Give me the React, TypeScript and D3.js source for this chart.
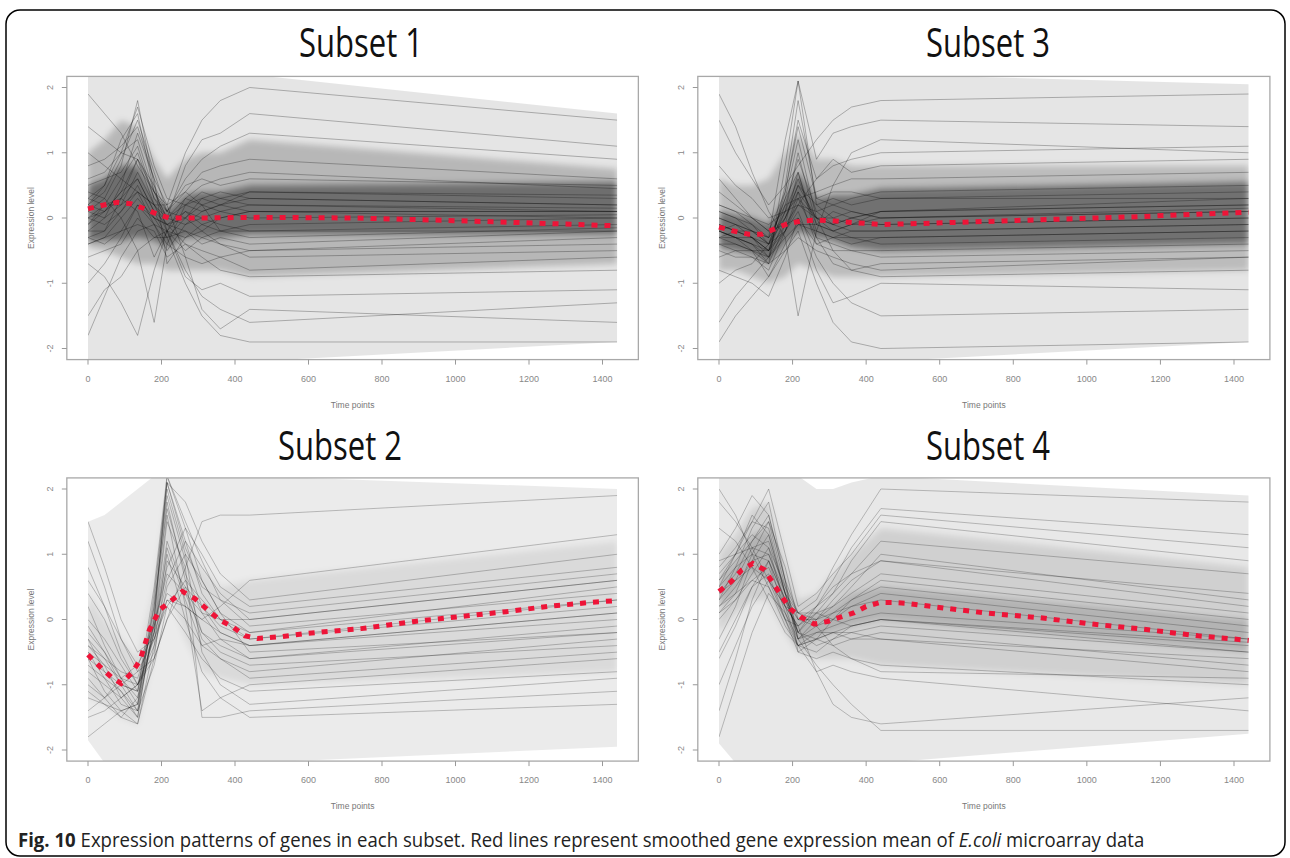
import React, { useLayoutEffect, useRef, useState } from 'react';
import * as d3 from 'd3';

// ---------- DATA ----------
const TIMES = [0, 45, 90, 135, 180, 215, 265, 310, 360, 440, 1440];
const X_TICKS = [0, 200, 400, 600, 800, 1000, 1200, 1400];
const Y_TICKS = [-2, -1, 0, 1, 2];
const CAPTION_BOLD = 'Fig. 10';
const CAPTION_TEXT = ' Expression patterns of genes in each subset. Red lines represent smoothed gene expression mean of ';
const CAPTION_ITALIC = 'E.coli';
const CAPTION_END = ' microarray data';

// Subset 1
const subset1Genes = [
  [0.2, 0.5, 1.2, 1.6, 0.4, 0.0, 0.3, 0.2, 0.3, 0.4, 0.3],
  [-0.3, -0.2, 0.3, 0.9, 0.2, -0.1, -0.2, -0.3, -0.2, -0.2, -0.1],
  [0.1, 0.3, 0.8, 1.8, 0.5, -0.2, 0.1, 0.0, 0.1, 0.2, 0.15],
  [1.4, 1.2, 1.0, 0.9, 0.5, 0.1, 0.6, 0.9, 1.1, 1.3, 0.9],
  [-0.4, -0.3, -0.2, -0.1, -0.2, -0.6, -0.4, -0.5, -0.6, -0.5, -0.3],
  [0.0, 0.1, 0.4, 0.6, 0.1, -0.3, 0.0, 0.2, 0.1, 0.0, 0.05],
  [-1.8, -1.2, -0.6, -0.2, -0.1, -0.2, -0.8, -1.2, -1.4, -1.6, -1.3],
  [0.5, 0.6, 0.7, 1.1, 0.3, 0.1, 0.5, 0.6, 0.5, 0.6, 0.5],
  [-0.2, 0.0, 0.5, 1.3, 0.6, -0.7, -0.3, -0.1, -0.2, -0.1, 0.0],
  [0.3, 0.2, 0.2, 0.4, 0.2, 0.0, 0.2, 0.3, 0.4, 0.3, 0.2],
  [1.9, 1.6, 1.3, 0.8, 0.4, 0.2, 1.0, 1.5, 1.8, 2.0, 1.5],
  [-0.3, -0.4, -0.2, 0.2, -0.1, -0.4, -0.6, -0.7, -0.6, -0.8, -0.6],
  [0.0, -0.1, 0.1, 0.5, 0.0, -0.1, 0.1, -0.1, 0.0, 0.1, 0.0],
  [-1.0, -0.7, -0.3, 0.2, 0.0, -0.1, -0.4, -0.6, -0.8, -0.9, -0.8],
  [0.8, 0.9, 1.1, 1.4, 0.6, 0.2, 0.4, 0.7, 0.8, 0.9, 0.6],
  [-0.1, 0.2, 0.6, 1.0, 0.3, 0.0, -0.1, 0.1, 0.2, 0.3, 0.2],
  [0.4, 0.3, 0.0, -0.5, -1.6, -0.4, 0.2, 0.4, 0.3, 0.2, 0.1],
  [-0.4, -0.3, 0.0, 0.3, 0.0, -0.3, -0.2, -0.4, -0.3, -0.4, -0.2],
  [0.2, 0.4, 0.9, 1.5, 0.7, 0.1, 0.0, -0.2, 0.0, 0.1, 0.1],
  [-1.5, -1.1, -0.9, -0.5, -0.3, -0.3, -1.0, -1.5, -1.8, -1.9, -1.9],
  [0.1, 0.0, 0.2, 0.7, 0.2, -0.2, 0.3, 0.5, 0.6, 0.7, 0.45],
  [-0.2, -0.2, 0.1, 0.4, -0.1, -0.5, -0.1, 0.0, -0.1, -0.2, -0.2],
  [0.6, 0.7, 1.0, 1.2, 0.4, 0.0, 0.8, 1.2, 1.3, 1.6, 1.1],
  [0.0, 0.2, 0.3, 0.1, -0.6, -0.2, -0.9, -1.1, -1.0, -1.2, -1.1],
  [-0.6, -0.5, -0.4, 0.0, -0.3, -0.2, -0.5, -0.3, -0.4, -0.6, -0.5],
  [0.3, 0.5, 1.0, 1.7, 0.8, 0.3, 0.2, 0.1, 0.2, 0.4, 0.35],
  [-0.7, -0.9, -1.3, -1.8, -0.8, -0.2, -0.3, -0.2, -0.4, -0.5, -0.4],
  [1.0, 0.8, 0.6, 0.4, 0.2, 0.2, -0.6, -1.4, -1.7, -1.4, -1.6],
  [0.2, 0.1, 0.3, 0.6, 0.1, -0.1, 0.0, 0.3, 0.2, 0.1, 0.1],
  [-0.1, 0.1, 0.4, 0.9, 0.4, 0.1, 0.4, 0.2, -0.2, -0.3, -0.15],
];
const subset1OuterHi = [2.2, 2.2, 2.2, 2.2, 2.2, 2.2, 2.2, 2.2, 2.2, 2.2, 1.6];
const subset1OuterLo = [-2.2, -2.2, -2.2, -2.2, -2.2, -2.2, -2.2, -2.2, -2.2, -2.2, -1.9];
const subset1MidHi = [1.0, 1.2, 1.5, 1.4, 0.9, 0.6, 0.9, 1.0, 1.0, 1.2, 0.75];
const subset1MidLo = [-0.45, -0.5, -0.6, -0.7, -0.7, -0.8, -0.8, -0.8, -0.8, -0.9, -0.7];
const subset1CoreHi = [0.5, 0.6, 0.8, 0.8, 0.35, 0.1, 0.35, 0.4, 0.4, 0.5, 0.55];
const subset1CoreLo = [-0.35, -0.35, -0.35, -0.3, -0.35, -0.45, -0.3, -0.3, -0.3, -0.25, -0.25];
const subset1MeanTimes = [0, 43, 80, 116, 150, 184, 220, 291, 472, 720, 935, 1115, 1228, 1440];
const subset1MeanValues = [0.14, 0.2, 0.24, 0.22, 0.15, 0.07, 0.0, 0.0, 0.01, 0.0, -0.03, -0.06, -0.08, -0.12];

// Subset 3
const subset3Genes = [
  [-0.2, -0.3, -0.4, -0.5, 0.2, 0.9, 0.1, -0.1, 0.0, 0.1, 0.2],
  [-0.1, -0.2, -0.3, -0.6, 0.5, 1.8, 0.3, 0.2, 0.1, 0.0, 0.15],
  [0.1, 0.0, -0.1, -0.3, 0.0, 0.4, 0.0, -0.1, -0.2, -0.2, -0.1],
  [-0.4, -0.5, -0.6, -0.8, -0.2, 0.3, -0.3, -0.4, -0.5, -0.5, -0.4],
  [-0.3, -0.3, -0.4, -0.7, 0.8, 2.1, 0.2, 0.0, -0.1, 0.1, 0.3],
  [1.5, 1.0, 0.6, 0.2, 0.5, 0.8, 1.2, 1.5, 1.7, 1.8, 1.9],
  [-1.6, -1.2, -0.9, -0.6, -0.2, 0.1, -0.6, -1.0, -1.3, -1.5, -1.4],
  [-0.2, -0.1, -0.2, -0.4, 0.3, 1.2, 0.0, -0.2, -0.1, 0.0, 0.1],
  [0.0, -0.1, -0.3, -0.5, -0.1, 0.2, 0.1, 0.2, 0.3, 0.4, 0.5],
  [-0.3, -0.4, -0.5, -0.6, -0.3, -0.1, -0.1, -0.2, -0.3, -0.3, -0.2],
  [0.6, 0.3, 0.0, -0.2, 0.4, 1.5, 0.6, 0.8, 0.9, 1.0, 1.1],
  [-0.2, -0.3, -0.5, -0.9, -0.4, -0.1, -0.2, -0.3, -0.4, -0.3, -0.2],
  [-1.0, -0.8, -0.7, -0.4, 0.3, 0.7, -0.3, -0.7, -0.8, -0.9, -0.8],
  [0.2, 0.1, -0.1, -0.4, 0.0, 0.5, 0.2, 0.3, 0.2, 0.3, 0.4],
  [-0.1, -0.2, -0.3, -0.5, 0.1, 0.6, -0.1, -0.2, -0.1, -0.1, 0.0],
  [1.9, 1.4, 0.7, 0.1, -0.3, -1.5, -0.2, 0.5, 1.0, 1.2, 1.0],
  [-0.5, -0.6, -0.6, -0.7, -0.5, -0.3, -0.5, -0.6, -0.7, -0.8, -0.6],
  [-0.3, -0.2, -0.2, -0.4, 0.1, 1.0, -0.1, 0.1, 0.0, -0.1, 0.0],
  [-1.9, -1.5, -1.2, -0.9, -0.5, -0.2, -1.0, -1.6, -1.9, -2.0, -1.9],
  [0.1, 0.0, -0.2, -0.3, 0.2, 0.3, 0.4, 0.5, 0.6, 0.6, 0.7],
  [-0.2, -0.3, -0.4, -0.6, 0.0, 0.5, 0.0, -0.1, 0.0, 0.1, 0.2],
  [0.4, 0.2, 0.0, -0.2, -0.1, 0.0, -0.8, -1.3, -1.2, -1.0, -1.1],
  [-0.6, -0.5, -0.5, -0.5, -0.2, 0.4, -0.4, -0.5, -0.5, -0.6, -0.5],
  [0.0, -0.1, -0.2, -0.3, 1.2, 2.1, 0.9, 1.3, 1.4, 1.5, 1.4],
  [-0.1, -0.2, -0.3, -0.4, -0.2, 0.2, 0.0, 0.0, 0.1, 0.0, 0.1],
  [-0.4, -0.4, -0.5, -0.7, -0.1, 0.7, -0.2, -0.3, -0.2, -0.2, -0.1],
  [0.8, 0.5, 0.3, 0.0, 0.1, 0.3, 0.0, -0.5, -0.8, -0.7, -0.6],
  [-0.2, -0.3, -0.3, -0.5, 0.4, 1.4, 0.3, 0.4, 0.4, 0.3, 0.3],
  [-0.8, -0.9, -1.0, -1.2, -0.6, 0.0, -0.4, -0.3, -0.3, -0.4, -0.3],
  [0.2, 0.1, 0.0, -0.1, 0.1, 0.2, 0.6, 0.9, 0.7, 0.8, 0.9],
];
const subset3OuterHi = [2.2, 2.2, 2.2, 2.2, 2.2, 2.2, 2.2, 2.2, 2.2, 2.2, 2.05];
const subset3OuterLo = [-2.2, -2.2, -2.2, -2.2, -2.2, -2.2, -2.2, -2.2, -2.2, -2.2, -1.9];
const subset3MidHi = [0.6, 0.5, 0.5, 0.6, 1.0, 1.3, 0.9, 0.9, 0.8, 0.8, 0.8];
const subset3MidLo = [-0.8, -0.8, -0.9, -1.0, -0.9, -0.7, -0.8, -0.9, -0.9, -0.9, -0.8];
const subset3CoreHi = [0.1, 0.05, 0.0, -0.1, 0.3, 0.7, 0.3, 0.35, 0.35, 0.45, 0.55];
const subset3CoreLo = [-0.45, -0.5, -0.55, -0.7, -0.4, -0.2, -0.3, -0.35, -0.45, -0.5, -0.4];
const subset3MeanTimes = [0, 40, 81, 116, 150, 185, 220, 261, 300, 366, 440, 513, 688, 911, 1137, 1440];
const subset3MeanValues = [-0.14, -0.2, -0.25, -0.25, -0.17, -0.09, -0.05, -0.03, -0.04, -0.07, -0.1, -0.09, -0.06, -0.02, 0.02, 0.09];

// Subset 2
const subset2Genes = [
  [-0.5, -0.9, -1.3, -1.4, 0.3, 2.1, 1.2, 0.4, 0.0, -0.3, 0.2],
  [-0.3, -0.8, -1.1, -1.5, 0.0, 2.2, 1.5, 0.9, 0.3, -0.1, 0.4],
  [1.5, 0.8, 0.0, -0.5, -0.3, 0.2, 0.6, 0.3, 0.0, -0.2, 0.5],
  [-1.2, -1.3, -1.5, -1.2, -0.2, 1.5, 0.8, -1.5, -1.5, -1.4, -1.1],
  [-0.8, -1.0, -1.2, -1.0, -0.5, 0.5, 1.0, 0.6, 0.1, -0.5, -0.2],
  [0.2, -0.4, -0.9, -1.3, 0.2, 1.9, 0.9, 0.2, -0.2, -0.4, 0.0],
  [-1.8, -1.6, -1.4, -1.6, -0.6, 0.9, 0.5, -0.3, -0.6, -0.9, -0.5],
  [-0.4, -0.6, -0.8, -0.9, -0.1, 0.8, 1.4, 1.0, 0.5, 0.2, 0.8],
  [0.8, 0.2, -0.5, -1.0, -0.4, 0.3, 0.0, -0.4, -0.6, -0.8, -0.3],
  [-0.6, -1.1, -1.4, -1.3, 0.4, 2.1, 1.8, 1.2, 0.7, 0.3, 1.0],
  [-1.0, -1.2, -1.0, -0.8, -0.3, 0.3, 0.2, 0.0, -0.2, -0.4, 0.1],
  [0.0, -0.3, -0.7, -1.1, -0.2, 1.2, 0.4, -0.2, -0.5, -0.7, -0.4],
  [-0.2, -0.5, -0.9, -1.2, 0.1, 2.0, 1.0, -0.5, -1.0, -1.3, -0.9],
  [1.2, 0.5, -0.3, -0.8, -0.6, 0.0, 0.8, 1.5, 1.6, 1.6, 1.9],
  [-0.9, -1.2, -1.5, -1.6, -0.4, 1.1, 0.3, -0.4, -0.3, -0.4, 0.1],
  [-0.5, -0.7, -0.9, -1.0, -0.6, 0.0, 0.5, 0.2, -0.1, -0.3, 0.3],
  [-1.5, -1.4, -1.2, -1.0, 0.0, 1.8, 0.6, -0.2, -0.4, -0.6, -0.2],
  [0.4, 0.0, -0.6, -1.0, -0.3, 0.6, 1.2, 0.8, 0.4, 0.0, 0.6],
  [-0.7, -0.9, -1.1, -1.4, -0.1, 1.6, 0.2, -1.4, -1.2, -1.0, -0.6],
  [-0.3, -0.6, -1.0, -1.1, 0.5, 2.2, 1.4, 0.6, 0.1, -0.2, 0.3],
  [-1.1, -1.3, -1.4, -1.3, -0.2, 1.0, 0.0, -0.8, -1.2, -1.5, -1.3],
  [0.6, 0.2, -0.3, -0.7, -0.2, 0.4, 0.2, 0.0, 0.2, 0.6, 1.3],
  [-0.6, -0.8, -1.0, -1.1, 0.2, 1.7, 0.7, 0.1, -0.3, -0.6, -0.1],
  [-0.1, -0.5, -1.0, -1.4, -0.7, 0.2, -0.2, -0.6, -0.9, -1.1, -0.8],
  [-0.4, -0.7, -1.2, -1.5, 0.0, 2.1, 1.1, 0.5, 0.3, 0.1, 0.7],
  [-1.4, -1.2, -0.9, -0.7, -0.1, 0.7, 0.4, 0.1, 0.0, 0.0, 0.6],
];
const subset2OuterHi = [1.5, 1.6, 1.8, 2.0, 2.2, 2.2, 2.2, 2.2, 2.2, 2.2, 2.0];
const subset2OuterLo = [-1.85, -2.2, -2.2, -2.2, -2.2, -2.2, -2.2, -2.2, -2.2, -2.2, -1.95];
const subset2MidHi = [0.4, 0.0, -0.3, -0.6, 0.5, 1.9, 1.2, 0.8, 0.5, 0.6, 1.2];
const subset2MidLo = [-1.2, -1.3, -1.5, -1.6, -0.5, 0.5, -0.3, -0.8, -0.9, -1.0, -0.8];
const subset2MeanTimes = [0, 32, 63, 90, 119, 142, 167, 195, 223, 257, 291, 325, 359, 393, 427, 461, 530, 600, 743, 889, 1003, 1138, 1251, 1364, 1440];
const subset2MeanValues = [-0.54, -0.72, -0.88, -0.98, -0.82, -0.62, -0.16, 0.15, 0.27, 0.43, 0.32, 0.15, -0.01, -0.11, -0.25, -0.29, -0.26, -0.21, -0.14, -0.03, 0.04, 0.12, 0.2, 0.26, 0.29];

// Subset 4
const subset4Genes = [
  [0.5, 1.0, 1.6, 1.3, 0.4, -0.3, -0.1, 0.1, 0.2, 0.4, -0.2],
  [0.3, 0.8, 1.4, 1.8, 0.6, -0.5, -0.3, 0.0, 0.3, 0.6, 0.0],
  [1.8, 1.5, 1.1, 0.6, 0.2, 0.1, 0.3, 0.8, 1.3, 2.0, 1.8],
  [0.2, 0.5, 0.9, 1.0, 0.3, -0.2, -0.4, -0.3, -0.1, 0.0, -0.4],
  [-1.8, -1.0, -0.2, 0.4, 0.1, -0.3, -0.7, -1.0, -1.3, -1.7, -1.7],
  [0.6, 0.9, 1.2, 1.5, 0.8, 0.0, 0.2, 0.4, 0.7, 1.2, 0.7],
  [0.4, 0.6, 0.8, 0.6, 0.0, -0.4, -0.2, -0.1, 0.0, 0.1, -0.3],
  [1.0, 1.4, 1.9, 1.6, 0.6, 0.1, 0.0, 0.3, 0.6, 0.9, 0.2],
  [-0.5, 0.0, 0.5, 0.7, 0.0, -0.5, -0.6, -0.5, -0.6, -0.7, -1.0],
  [0.1, 0.4, 1.0, 1.5, 0.5, -0.2, 0.1, 0.4, 0.9, 1.5, 0.9],
  [1.4, 1.2, 0.8, 0.3, -0.2, -0.4, -0.3, -0.2, -0.3, -0.2, -0.7],
  [0.3, 0.6, 1.1, 1.2, 0.4, 0.0, -0.1, 0.0, 0.2, 0.3, -0.3],
  [-1.0, -0.4, 0.2, 0.6, 0.2, -0.1, -0.8, -1.3, -1.5, -1.6, -1.2],
  [0.8, 1.1, 1.5, 2.0, 1.0, 0.2, 0.4, 0.7, 1.0, 1.6, 1.1],
  [0.2, 0.4, 0.6, 0.5, -0.1, -0.4, -0.5, -0.3, -0.2, -0.1, -0.5],
  [0.5, 0.8, 1.0, 0.9, 0.3, 0.0, 0.0, 0.1, 0.3, 0.5, -0.1],
  [-0.3, 0.2, 0.9, 1.3, 0.4, -0.3, -0.2, -0.2, -0.1, 0.0, -0.5],
  [2.0, 1.6, 1.0, 0.5, 0.0, -0.1, 0.2, 0.5, 0.7, 0.9, 0.4],
  [0.0, 0.3, 0.7, 1.1, 0.2, -0.4, -0.8, -0.7, -0.8, -0.9, -1.4],
  [0.7, 1.0, 1.3, 1.1, 0.5, 0.1, 0.1, 0.2, 0.4, 0.7, 0.1],
  [-1.4, -0.6, 0.3, 0.9, 0.3, -0.2, -0.3, -0.4, -0.3, -0.3, -0.8],
  [0.4, 0.7, 1.2, 1.6, 0.6, -0.3, 0.0, 0.2, 0.5, 1.0, 0.3],
  [0.9, 1.0, 1.1, 1.0, 0.4, 0.1, -0.1, -0.4, -0.6, -0.8, -0.9],
  [0.1, 0.3, 0.6, 0.8, 0.2, -0.1, 0.1, 0.0, -0.1, 0.0, -0.35],
  [0.6, 1.0, 1.5, 1.4, 0.4, -0.2, 0.2, 0.6, 1.1, 1.7, 1.3],
  [-0.6, -0.1, 0.5, 0.9, 0.1, -0.4, -0.3, -0.2, -0.2, -0.3, -0.6],
];
const subset4OuterHi = [2.2, 2.2, 2.2, 2.2, 2.2, 2.2, 2.0, 2.0, 2.1, 2.2, 1.9];
const subset4OuterLo = [-1.9, -2.2, -2.2, -2.2, -2.2, -2.2, -2.2, -2.2, -2.2, -2.2, -1.75];
const subset4MidHi = [1.0, 1.3, 1.7, 1.8, 0.9, 0.3, 0.4, 0.7, 1.0, 1.4, 0.8];
const subset4MidLo = [-0.2, 0.1, 0.3, 0.3, -0.2, -0.5, -0.6, -0.6, -0.6, -0.7, -1.0];
const subset4CoreHi = [0.6, 0.9, 1.3, 1.4, 0.6, 0.0, 0.1, 0.2, 0.4, 0.5, 0.0];
const subset4CoreLo = [0.2, 0.4, 0.7, 0.6, 0.0, -0.4, -0.3, -0.2, -0.1, 0.0, -0.5];
const subset4MeanTimes = [0, 33, 62, 92, 124, 148, 171, 194, 225, 259, 295, 332, 366, 400, 437, 473, 507, 620, 724, 868, 1015, 1155, 1302, 1440];
const subset4MeanValues = [0.43, 0.58, 0.76, 0.86, 0.76, 0.55, 0.35, 0.16, 0.03, -0.07, -0.03, 0.04, 0.1, 0.2, 0.26, 0.26, 0.25, 0.17, 0.1, 0.03, -0.07, -0.15, -0.25, -0.32];

// ---------- LAYOUT ----------
type Band = { hi: number[]; lo: number[]; op: number; blur: boolean };
const panels = [
  {
    id: 'p1', title: 'Subset 1', titleCx: 361, titleBase: 57, xr: [88, 602.5], yr: [348.5, 87.5],
    genes: subset1Genes, lineOp: 0.3,
    bands: [
      { hi: subset1OuterHi, lo: subset1OuterLo, op: 0.1, blur: false },
      { hi: subset1MidHi, lo: subset1MidLo, op: 0.2, blur: true },
      { hi: subset1CoreHi, lo: subset1CoreLo, op: 0.4, blur: true },
    ] as Band[],
    meanT: subset1MeanTimes, meanV: subset1MeanValues,
  },
  {
    id: 'p3', title: 'Subset 3', titleCx: 988, titleBase: 57, xr: [719, 1234], yr: [348.5, 87.5],
    genes: subset3Genes, lineOp: 0.3,
    bands: [
      { hi: subset3OuterHi, lo: subset3OuterLo, op: 0.1, blur: false },
      { hi: subset3MidHi, lo: subset3MidLo, op: 0.18, blur: true },
      { hi: subset3CoreHi, lo: subset3CoreLo, op: 0.4, blur: true },
    ] as Band[],
    meanT: subset3MeanTimes, meanV: subset3MeanValues,
  },
  {
    id: 'p2', title: 'Subset 2', titleCx: 340, titleBase: 460, xr: [88, 602.5], yr: [750, 489],
    genes: subset2Genes, lineOp: 0.26,
    bands: [
      { hi: subset2OuterHi, lo: subset2OuterLo, op: 0.08, blur: false },
      { hi: subset2MidHi, lo: subset2MidLo, op: 0.07, blur: true },
    ] as Band[],
    meanT: subset2MeanTimes, meanV: subset2MeanValues,
  },
  {
    id: 'p4', title: 'Subset 4', titleCx: 988, titleBase: 460, xr: [719, 1234], yr: [750, 489],
    genes: subset4Genes, lineOp: 0.26,
    bands: [
      { hi: subset4OuterHi, lo: subset4OuterLo, op: 0.09, blur: false },
      { hi: subset4MidHi, lo: subset4MidLo, op: 0.1, blur: true },
      { hi: subset4CoreHi, lo: subset4CoreLo, op: 0.14, blur: true },
    ] as Band[],
    meanT: subset4MeanTimes, meanV: subset4MeanValues,
  },
];

const AXIS_FONT = 'Liberation Sans, Arial, sans-serif';
const TITLE_FONT = 'Open Sans, Noto Sans, sans-serif';

function Panel({ p }: { p: (typeof panels)[number] }) {
  const xs = d3.scaleLinear().domain([0, 1400]).range(p.xr);
  const ys = d3.scaleLinear().domain([-2, 2]).range(p.yr);
  const bx0 = xs(-57.6), bx1 = xs(1497.6);
  const by0 = ys(2.17), by1 = ys(-2.17);
  const dx0 = xs(0), dx1 = xs(1440);

  const line = d3.line<number>().x((_, i) => xs(TIMES[i])).y((v) => ys(v));
  const bandPath = (b: Band) => {
    const a = d3
      .area<number>()
      .x((_, i) => xs(TIMES[i]))
      .y0((_, i) => ys(b.lo[i]))
      .y1((v) => ys(v));
    return a(b.hi) || '';
  };
  const meanLine = d3
    .line<number>()
    .x((_, i) => xs(p.meanT[i]))
    .y((v) => ys(v));

  const cx = (bx0 + bx1) / 2;
  const cy = (by0 + by1) / 2;

  return (
    <g>
      <defs>
        <clipPath id={`clip-${p.id}`}>
          <rect x={dx0} y={by0} width={dx1 - dx0} height={by1 - by0} />
        </clipPath>
      </defs>
      <rect x={bx0} y={by0} width={bx1 - bx0} height={by1 - by0} fill="#fff" />
      <g clipPath={`url(#clip-${p.id})`}>
        {p.bands
          .filter((b) => !b.blur)
          .map((b, i) => (
            <path key={`o${i}`} d={bandPath(b)} fill="#000" fillOpacity={b.op} />
          ))}
        <g filter="url(#soft)">
          {p.bands
            .filter((b) => b.blur)
            .map((b, i) => (
              <path key={`b${i}`} d={bandPath(b)} fill="#000" fillOpacity={b.op} />
            ))}
        </g>
        <g filter="url(#fine)">
          {p.genes.map((g, i) => (
            <path
              key={i}
              d={line(g) || ''}
              fill="none"
              stroke="#000"
              strokeOpacity={p.lineOp}
              strokeWidth={0.9}
            />
          ))}
        </g>
      </g>
      <path
        d={meanLine(p.meanV) || ''}
        fill="none"
        stroke="#ee1438"
        strokeWidth={5}
        strokeDasharray="6 7"
      />
      <rect
        x={bx0}
        y={by0}
        width={bx1 - bx0}
        height={by1 - by0}
        fill="none"
        stroke="#a8a8a8"
        strokeWidth={1.3}
      />
      {Y_TICKS.map((t) => (
        <g key={`y${t}`}>
          <line x1={bx0 - 5} x2={bx0} y1={ys(t)} y2={ys(t)} stroke="#999" strokeWidth={1} />
          <text
            x={bx0 - 17}
            y={ys(t)}
            transform={`rotate(-90, ${bx0 - 17}, ${ys(t)})`}
            textAnchor="middle"
            dominantBaseline="central"
            fontSize={9}
            fontFamily={AXIS_FONT}
            fill="#888"
          >
            {t}
          </text>
        </g>
      ))}
      {X_TICKS.map((t) => (
        <g key={`x${t}`}>
          <line x1={xs(t)} x2={xs(t)} y1={by1} y2={by1 + 5} stroke="#999" strokeWidth={1} />
          <text
            x={xs(t)}
            y={by1 + 19}
            textAnchor="middle"
            dominantBaseline="central"
            fontSize={9}
            fontFamily={AXIS_FONT}
            fill="#888"
          >
            {t}
          </text>
        </g>
      ))}
      <text
        x={cx}
        y={by1 + 45}
        textAnchor="middle"
        dominantBaseline="central"
        fontSize={8.5}
        fontFamily={AXIS_FONT}
        fill="#777"
      >
        Time points
      </text>
      <text
        x={bx0 - 36}
        y={cy}
        transform={`rotate(-90, ${bx0 - 36}, ${cy})`}
        textAnchor="middle"
        dominantBaseline="central"
        fontSize={8.5}
        fontFamily={AXIS_FONT}
        fill="#777"
      >
        Expression level
      </text>
      <text
        x={p.titleCx}
        y={p.titleBase}
        textAnchor="middle"
        fontSize={40}
        fontFamily={TITLE_FONT}
        fill="#111"
        textLength={124}
        lengthAdjust="spacingAndGlyphs"
      >
        {p.title}
      </text>
    </g>
  );
}

const CAPTION_X = 18;
const CAPTION_WIDTH = 1127;

export default function App() {
  const capRef = useRef<SVGTextElement | null>(null);
  const [capScale, setCapScale] = useState(1);
  useLayoutEffect(() => {
    if (capRef.current) {
      const w = capRef.current.getBBox().width;
      if (w > 0) setCapScale(CAPTION_WIDTH / w);
    }
  }, []);

  return (
    <svg
      width={1290}
      height={858}
      viewBox="0 0 1290 858"
      style={{ position: 'absolute', left: 0, top: 0, background: '#fff' }}
    >
      <defs>
        <filter id="soft" x="-5%" y="-5%" width="110%" height="110%">
          <feGaussianBlur stdDeviation="3" />
        </filter>
        <filter id="fine" x="-2%" y="-2%" width="104%" height="104%">
          <feGaussianBlur stdDeviation="0.4" />
        </filter>
      </defs>
      <rect x={0} y={0} width={1290} height={858} fill="#fff" />
      <rect
        x={6}
        y={10}
        width={1279}
        height={846}
        rx={14}
        ry={14}
        fill="none"
        stroke="#000"
        strokeWidth={1.5}
      />
      {panels.map((p) => (
        <Panel key={p.id} p={p} />
      ))}
      <g transform={`translate(${CAPTION_X}, 847) scale(${capScale}, 1)`}>
        <text ref={capRef} x={0} y={0} fontSize={20} fontFamily={TITLE_FONT} fill="#222">
          <tspan fontWeight="bold">{CAPTION_BOLD}</tspan>
          {CAPTION_TEXT}
          <tspan fontStyle="italic">{CAPTION_ITALIC}</tspan>
          {CAPTION_END}
        </text>
      </g>
    </svg>
  );
}
